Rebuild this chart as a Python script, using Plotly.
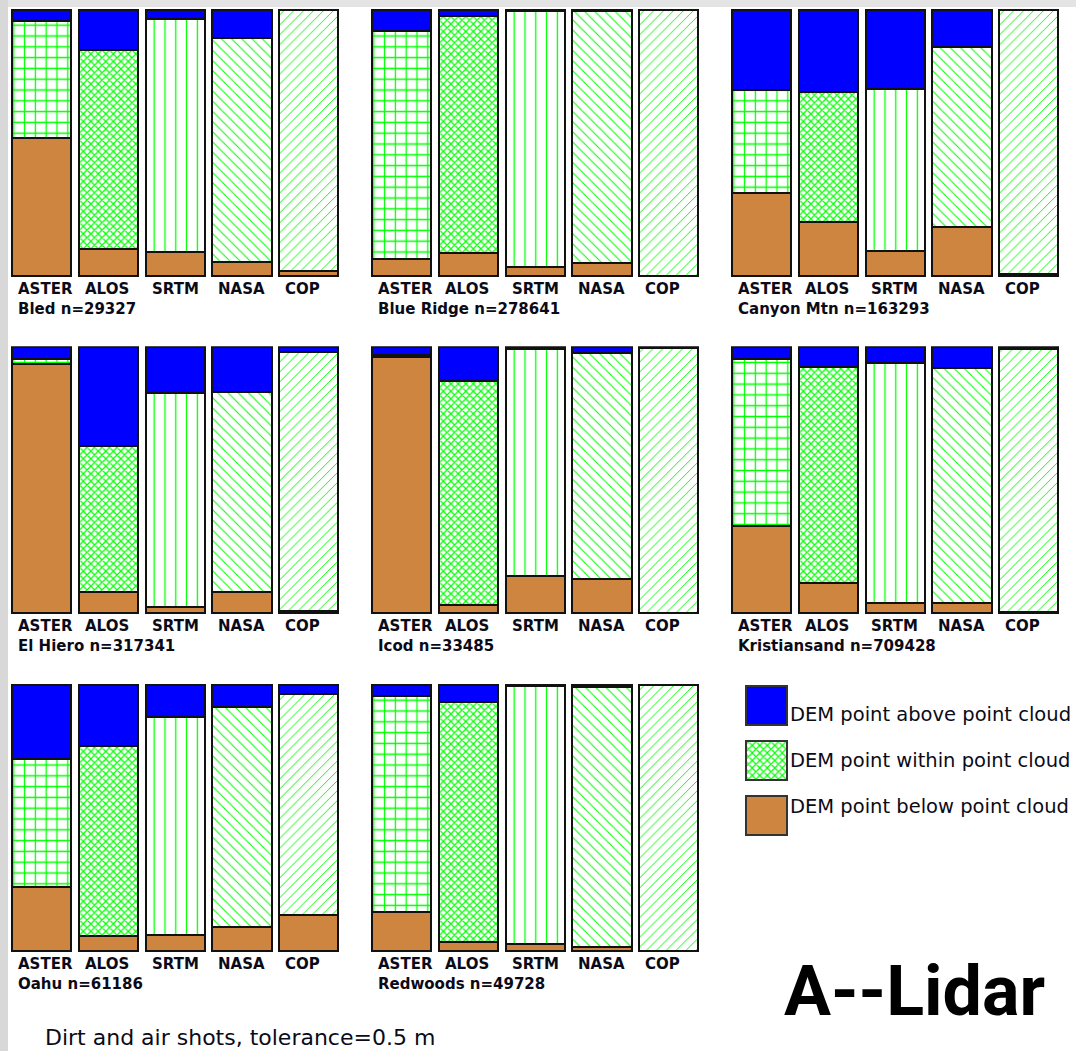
import plotly.graph_objects as go

W, H = 1076, 1051

# ---------------- data (percent of points) ----------------
dems = ["ASTER", "ALOS", "SRTM", "NASA", "COP"]
site_labels = ["Bled n=29327", "Blue Ridge n=278641", "Canyon Mtn n=163293",
               "El Hiero n=317341", "Icod n=33485", "Kristiansand n=709428",
               "Oahu n=61186", "Redwoods n=49728"]

bled_below = [52.0, 10.0, 9.0, 5.4, 2.0]
bled_within = [44.0, 75.0, 87.6, 84.2, 98.0]
bled_above = [4.0, 15.0, 3.4, 10.4, 0.0]

blueridge_below = [6.5, 8.5, 3.5, 5.0, 0.0]
blueridge_within = [85.6, 89.2, 96.2, 94.5, 100.0]
blueridge_above = [7.9, 2.3, 0.3, 0.5, 0.0]

canyon_below = [31.3, 20.4, 9.5, 18.5, 0.6]
canyon_within = [38.7, 48.6, 60.8, 67.7, 99.4]
canyon_above = [30.0, 31.0, 29.7, 13.8, 0.0]

elhiero_below = [93.7, 8.0, 2.5, 7.9, 1.0]
elhiero_within = [1.9, 55.0, 80.2, 75.4, 97.1]
elhiero_above = [4.4, 37.0, 17.3, 16.7, 1.9]

icod_below = [96.2, 3.0, 14.0, 13.0, 0.0]
icod_within = [0.8, 84.5, 85.2, 84.7, 99.7]
icod_above = [3.0, 12.5, 0.8, 2.3, 0.3]

kristiansand_below = [33.0, 11.5, 4.0, 4.0, 0.6]
kristiansand_within = [62.6, 81.2, 90.0, 88.1, 98.8]
kristiansand_above = [4.4, 7.3, 6.0, 7.9, 0.6]

oahu_below = [24.1, 5.6, 6.0, 9.1, 13.7]
oahu_within = [48.1, 71.5, 82.1, 82.5, 82.9]
oahu_above = [27.8, 22.9, 11.9, 8.4, 3.4]

redwoods_below = [14.5, 3.5, 2.6, 1.4, 0.0]
redwoods_within = [81.2, 90.2, 97.1, 97.8, 100.0]
redwoods_above = [4.3, 6.3, 0.3, 0.8, 0.0]

below = [bled_below, blueridge_below, canyon_below, elhiero_below,
         icod_below, kristiansand_below, oahu_below, redwoods_below]
within = [bled_within, blueridge_within, canyon_within, elhiero_within,
          icod_within, kristiansand_within, oahu_within, redwoods_within]
above = [bled_above, blueridge_above, canyon_above, elhiero_above,
         icod_above, kristiansand_above, oahu_above, redwoods_above]

legend_labels = ["DEM point above point cloud",
                 "DEM point within point cloud",
                 "DEM point below point cloud"]
title_text = "A--Lidar"
note_text = "Dirt and air shots, tolerance=0.5 m"

# ---------------- styles ----------------
BLUE = "#0000ff"
BROWN = "#cd853f"
GREEN = "#00ff00"
EDGE = "#111111"
TXT = "#0b0b18"
LBL_FONT = "DejaVu Sans"

pat_shape = ["+", "x", "|", "\\", "/"]
pat_size = [10.8, 5.3, 10.8, 7.2, 7.0]
pat_solid = [0.22, 0.40, 0.12, 0.14, 0.14]

col_left0 = 8.375          # px of first panel left edge
col_step = 360.0
panel_w = 333.75
bar_w = 0.891
row_top = [10.0, 347.3, 685.0]
row_bot = [276.0, 613.3, 951.0]
LW = 2.0

fig = go.Figure()
layout = dict(width=W, height=H, margin=dict(l=0, r=0, t=0, b=0),
              paper_bgcolor="white", plot_bgcolor="rgba(0,0,0,0)",
              showlegend=False, barmode="stack")
annotations = []

def px_x(p):
    return p / W

def px_y(p):
    return 1 - p / H

for i in range(8):
    r, c = divmod(i, 3)
    sfx = "" if i == 0 else str(i + 1)
    x0 = col_left0 + col_step * c
    layout["xaxis" + sfx] = dict(domain=[px_x(x0), px_x(x0 + panel_w)], range=[-0.5, 4.5],
                                 type="category", categoryorder="array", categoryarray=dems,
                                 showgrid=False, zeroline=False, showticklabels=False,
                                 showline=False, ticks="", fixedrange=True, anchor="y" + sfx)
    layout["yaxis" + sfx] = dict(domain=[px_y(row_bot[r] + 1), px_y(row_top[r] - 1)],
                                 range=[-0.376, 100.376],
                                 showgrid=False, zeroline=False, showticklabels=False,
                                 showline=False, ticks="", fixedrange=True, anchor="x" + sfx)
    fig.add_trace(go.Bar(x=dems, y=below[i], xaxis="x" + sfx, yaxis="y" + sfx, width=bar_w,
                         marker=dict(color=BROWN, line=dict(color=EDGE, width=LW)),
                         hoverinfo="skip"))
    fig.add_trace(go.Bar(x=dems, y=within[i], xaxis="x" + sfx, yaxis="y" + sfx, width=bar_w,
                         marker=dict(color="white", line=dict(color=EDGE, width=LW),
                                     pattern=dict(shape=pat_shape, size=pat_size,
                                                  solidity=pat_solid, fgcolor=GREEN,
                                                  bgcolor="white", fillmode="replace")),
                         hoverinfo="skip"))
    fig.add_trace(go.Bar(x=dems, y=above[i], xaxis="x" + sfx, yaxis="y" + sfx, width=bar_w,
                         marker=dict(color=BLUE, line=dict(color=EDGE, width=LW)),
                         hoverinfo="skip"))
    shift = -29.75 + 7 - 3
    for d in dems:
        annotations.append(dict(x=d, xref="x" + sfx, y=px_y(row_bot[r] + 13), yref="paper",
                                text="<b>%s</b>" % d, showarrow=False, xanchor="left",
                                yanchor="middle", xshift=shift,
                                font=dict(family=LBL_FONT, size=15, color=TXT)))
    annotations.append(dict(x=dems[0], xref="x" + sfx, y=px_y(row_bot[r] + 32.5), yref="paper",
                            text="<b>%s</b>" % site_labels[i], showarrow=False, xanchor="left",
                            yanchor="middle", xshift=shift,
                            font=dict(family=LBL_FONT, size=15, color=TXT)))

# ---------------- legend (swatches as bars) ----------------
layout["xaxis9"] = dict(domain=[px_x(744.8), px_x(788.2)], range=[-0.03, 1.03],
                        showgrid=False, zeroline=False, showticklabels=False,
                        ticks="", fixedrange=True, anchor="y9")
layout["yaxis9"] = dict(domain=[px_y(843.0), px_y(678.0)], range=[2.5, -0.5],
                        type="category", categoryorder="array", categoryarray=legend_labels,
                        showgrid=False, zeroline=False, showticklabels=False,
                        ticks="", fixedrange=True, anchor="x9")
leg_fill = [dict(color=BLUE), dict(color="white", pattern=dict(shape="x", size=5.3, solidity=0.40,
                                                                fgcolor=GREEN, bgcolor="white",
                                                                fillmode="replace")),
            dict(color=BROWN)]
for k, lab in enumerate(legend_labels):
    m = dict(leg_fill[k])
    m["line"] = dict(color="#333333", width=1.8)
    fig.add_trace(go.Bar(x=[1], y=[lab], orientation="h", width=0.71, xaxis="x9", yaxis="y9",
                         marker=m, hoverinfo="skip"))
    annotations.append(dict(x=px_x(788), y=px_y([714.5, 760.5, 806][k]), xref="paper",
                            yref="paper", text=lab, showarrow=False, xanchor="left",
                            yanchor="middle", font=dict(family=LBL_FONT, size=19.5, color=TXT)))

annotations.append(dict(x=px_x(782), y=px_y(991), xref="paper", yref="paper",
                        text="<b>%s</b>" % title_text, showarrow=False, xanchor="left",
                        yanchor="middle", font=dict(family="Roboto", size=70, color="#000000")))
annotations.append(dict(x=px_x(43), y=px_y(1037), xref="paper", yref="paper",
                        text=note_text, showarrow=False, xanchor="left",
                        yanchor="middle", font=dict(family=LBL_FONT, size=22, color=TXT)))

layout["annotations"] = annotations
layout["shapes"] = [
    dict(type="rect", xref="paper", yref="paper", x0=0, x1=1, y0=px_y(7), y1=1,
         fillcolor="#e4e4e4", line=dict(width=0), layer="below"),
    dict(type="rect", xref="paper", yref="paper", x0=0, x1=px_x(8), y0=0, y1=1,
         fillcolor="#d8d8d8", line=dict(width=0), layer="below"),
]

fig.update_layout(**layout)
fig.write_html("out.html")
